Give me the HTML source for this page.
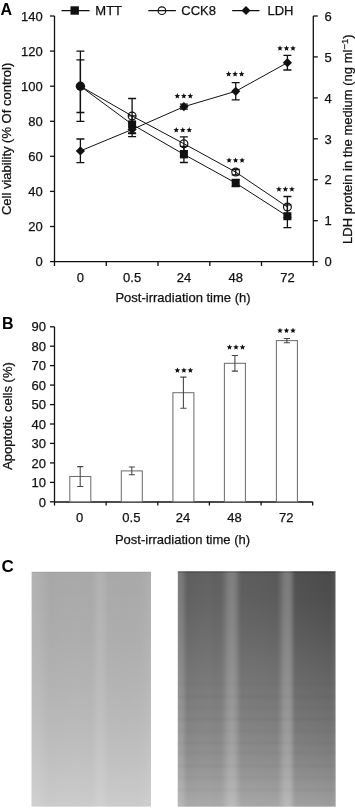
<!DOCTYPE html>
<html><head><meta charset="utf-8"><style>
html,body{margin:0;padding:0;background:#fff;}
svg{display:block;font-family:"Liberation Sans",sans-serif;will-change:transform;}
</style></head><body>
<svg width="355" height="808" viewBox="0 0 355 808">
<defs>
<linearGradient id="lgH" gradientUnits="userSpaceOnUse" x1="31.6" x2="151.0" y1="0" y2="0"><stop offset="0.0000" stop-color="#b2b2b2"/><stop offset="0.0536" stop-color="#b0b0b0"/><stop offset="0.1122" stop-color="#ababab"/><stop offset="0.1541" stop-color="#a7a7a7"/><stop offset="0.2379" stop-color="#a8a8a8"/><stop offset="0.3635" stop-color="#a9a9a9"/><stop offset="0.4891" stop-color="#a8a8a8"/><stop offset="0.5226" stop-color="#ababab"/><stop offset="0.5477" stop-color="#b0b0b0"/><stop offset="0.5812" stop-color="#b2b2b2"/><stop offset="0.6147" stop-color="#aeaeae"/><stop offset="0.6399" stop-color="#a9a9a9"/><stop offset="0.7822" stop-color="#a8a8a8"/><stop offset="0.9079" stop-color="#a9a9a9"/><stop offset="0.9581" stop-color="#acacac"/><stop offset="1.0000" stop-color="#afafaf"/></linearGradient>
<linearGradient id="lgV" gradientUnits="userSpaceOnUse" x1="0" x2="0" y1="571.8" y2="806.5"><stop offset="0.0000" stop-color="#fff" stop-opacity="0.000"/><stop offset="0.1202" stop-color="#fff" stop-opacity="0.020"/><stop offset="0.2906" stop-color="#fff" stop-opacity="0.060"/><stop offset="0.4610" stop-color="#fff" stop-opacity="0.120"/><stop offset="0.6314" stop-color="#fff" stop-opacity="0.190"/><stop offset="0.8019" stop-color="#fff" stop-opacity="0.280"/><stop offset="1.0000" stop-color="#fff" stop-opacity="0.400"/></linearGradient>
<linearGradient id="rgH" gradientUnits="userSpaceOnUse" x1="177.8" x2="335.5" y1="0" y2="0"><stop offset="-0.0019" stop-color="#808080"/><stop offset="0.0076" stop-color="#7c7c7c"/><stop offset="0.0235" stop-color="#787878"/><stop offset="0.0361" stop-color="#727272"/><stop offset="0.0488" stop-color="#666666"/><stop offset="0.0647" stop-color="#5e5e5e"/><stop offset="0.0900" stop-color="#5f5f5f"/><stop offset="0.1408" stop-color="#616161"/><stop offset="0.2042" stop-color="#626262"/><stop offset="0.2359" stop-color="#5f5f5f"/><stop offset="0.2739" stop-color="#616161"/><stop offset="0.2930" stop-color="#6a6a6a"/><stop offset="0.3120" stop-color="#777777"/><stop offset="0.3310" stop-color="#7f7f7f"/><stop offset="0.3532" stop-color="#7f7f7f"/><stop offset="0.3722" stop-color="#747474"/><stop offset="0.3881" stop-color="#666666"/><stop offset="0.4039" stop-color="#5d5d5d"/><stop offset="0.5212" stop-color="#5b5b5b"/><stop offset="0.6290" stop-color="#595959"/><stop offset="0.6481" stop-color="#646464"/><stop offset="0.6671" stop-color="#747474"/><stop offset="0.6861" stop-color="#7c7c7c"/><stop offset="0.7083" stop-color="#7a7a7a"/><stop offset="0.7242" stop-color="#6c6c6c"/><stop offset="0.7368" stop-color="#585858"/><stop offset="0.7495" stop-color="#505050"/><stop offset="0.8700" stop-color="#4d4d4d"/><stop offset="0.9651" stop-color="#4a4a4a"/><stop offset="0.9905" stop-color="#505050"/><stop offset="1.0000" stop-color="#585858"/></linearGradient>
<linearGradient id="rgV" gradientUnits="userSpaceOnUse" x1="0" x2="0" y1="571.3" y2="806.5"><stop offset="0.0000" stop-color="#fff" stop-opacity="0.000"/><stop offset="0.1220" stop-color="#fff" stop-opacity="0.020"/><stop offset="0.2921" stop-color="#fff" stop-opacity="0.080"/><stop offset="0.4622" stop-color="#fff" stop-opacity="0.150"/><stop offset="0.6322" stop-color="#fff" stop-opacity="0.220"/><stop offset="0.8023" stop-color="#fff" stop-opacity="0.310"/><stop offset="1.0000" stop-color="#fff" stop-opacity="0.460"/></linearGradient>
<linearGradient id="rgB" gradientUnits="userSpaceOnUse" x1="0" x2="0" y1="571.3" y2="806.5"><stop offset="0.0000" stop-color="#000" stop-opacity="0.000"/><stop offset="0.4622" stop-color="#000" stop-opacity="0.000"/><stop offset="0.1582" stop-color="#000" stop-opacity="0.000"/><stop offset="0.1730" stop-color="#000" stop-opacity="0.015"/><stop offset="0.1879" stop-color="#000" stop-opacity="0.000"/><stop offset="0.2772" stop-color="#000" stop-opacity="0.000"/><stop offset="0.2921" stop-color="#000" stop-opacity="0.015"/><stop offset="0.3070" stop-color="#000" stop-opacity="0.000"/><stop offset="0.3707" stop-color="#000" stop-opacity="0.000"/><stop offset="0.3856" stop-color="#000" stop-opacity="0.020"/><stop offset="0.4005" stop-color="#000" stop-opacity="0.000"/><stop offset="0.4643" stop-color="#000" stop-opacity="0.000"/><stop offset="0.4792" stop-color="#000" stop-opacity="0.022"/><stop offset="0.4940" stop-color="#000" stop-opacity="0.000"/><stop offset="0.5196" stop-color="#000" stop-opacity="0.000"/><stop offset="0.5344" stop-color="#000" stop-opacity="0.030"/><stop offset="0.5493" stop-color="#000" stop-opacity="0.000"/><stop offset="0.5663" stop-color="#000" stop-opacity="0.000"/><stop offset="0.5812" stop-color="#000" stop-opacity="0.022"/><stop offset="0.5961" stop-color="#000" stop-opacity="0.000"/><stop offset="0.6131" stop-color="#000" stop-opacity="0.000"/><stop offset="0.6280" stop-color="#000" stop-opacity="0.032"/><stop offset="0.6429" stop-color="#000" stop-opacity="0.000"/><stop offset="0.6641" stop-color="#000" stop-opacity="0.000"/><stop offset="0.6790" stop-color="#000" stop-opacity="0.025"/><stop offset="0.6939" stop-color="#000" stop-opacity="0.000"/><stop offset="0.7151" stop-color="#000" stop-opacity="0.000"/><stop offset="0.7300" stop-color="#000" stop-opacity="0.030"/><stop offset="0.7449" stop-color="#000" stop-opacity="0.000"/><stop offset="0.7577" stop-color="#000" stop-opacity="0.000"/><stop offset="0.7725" stop-color="#000" stop-opacity="0.025"/><stop offset="0.7874" stop-color="#000" stop-opacity="0.000"/><stop offset="0.8129" stop-color="#000" stop-opacity="0.000"/><stop offset="0.8278" stop-color="#000" stop-opacity="0.030"/><stop offset="0.8427" stop-color="#000" stop-opacity="0.000"/><stop offset="0.8639" stop-color="#000" stop-opacity="0.000"/><stop offset="0.8788" stop-color="#000" stop-opacity="0.022"/><stop offset="0.8937" stop-color="#000" stop-opacity="0.000"/><stop offset="0.9150" stop-color="#000" stop-opacity="0.000"/><stop offset="0.9298" stop-color="#000" stop-opacity="0.025"/><stop offset="0.9447" stop-color="#000" stop-opacity="0.000"/><stop offset="1.0000" stop-color="#000" stop-opacity="0.000"/></linearGradient>
</defs>
<rect x="31.6" y="571.8" width="119.4" height="234.7" fill="url(#lgH)"/>
<rect x="31.6" y="571.8" width="119.4" height="234.7" fill="url(#lgV)"/>
<rect x="177.8" y="571.3" width="157.7" height="235.2" fill="url(#rgH)"/>
<rect x="177.8" y="571.3" width="157.7" height="235.2" fill="url(#rgV)"/>
<rect x="177.8" y="571.3" width="157.7" height="235.2" fill="url(#rgB)"/>
<rect x="177.8" y="571.3" width="157.7" height="1.4" fill="#000" fill-opacity="0.22"/>
<rect x="31.6" y="571.8" width="119.4" height="1.2" fill="#000" fill-opacity="0.05"/>
<g stroke="#111" stroke-width="1.3" fill="none">
<path d="M54.5 16 V261.6 H313.3 V16"/>
<path d="M50 261.6 H54.5"/>
<path d="M50 226.5 H54.5"/>
<path d="M50 191.4 H54.5"/>
<path d="M50 156.3 H54.5"/>
<path d="M50 121.3 H54.5"/>
<path d="M50 86.2 H54.5"/>
<path d="M50 51.1 H54.5"/>
<path d="M50 16.0 H54.5"/>
<path d="M313.3 261.6 H317.8"/>
<path d="M313.3 220.7 H317.8"/>
<path d="M313.3 179.7 H317.8"/>
<path d="M313.3 138.8 H317.8"/>
<path d="M313.3 97.9 H317.8"/>
<path d="M313.3 56.9 H317.8"/>
<path d="M313.3 16.0 H317.8"/>
<path d="M54.5 261.6 V266"/>
<path d="M106.3 261.6 V266"/>
<path d="M158.0 261.6 V266"/>
<path d="M209.8 261.6 V266"/>
<path d="M261.5 261.6 V266"/>
<path d="M313.3 261.6 V266"/>
</g>
<g font-size="13" fill="#111" stroke="#111" stroke-width="0.25">
<text x="42.8" y="266.3" text-anchor="end">0</text>
<text x="42.8" y="231.2" text-anchor="end">20</text>
<text x="42.8" y="196.1" text-anchor="end">40</text>
<text x="42.8" y="161.0" text-anchor="end">60</text>
<text x="42.8" y="126.0" text-anchor="end">80</text>
<text x="42.8" y="90.9" text-anchor="end">100</text>
<text x="42.8" y="55.8" text-anchor="end">120</text>
<text x="42.8" y="20.7" text-anchor="end">140</text>
<text x="324.5" y="266.3">0</text>
<text x="324.5" y="225.4">1</text>
<text x="324.5" y="184.4">2</text>
<text x="324.5" y="143.5">3</text>
<text x="324.5" y="102.6">4</text>
<text x="324.5" y="61.6">5</text>
<text x="324.5" y="20.7">6</text>
<text x="80.4" y="282.2" text-anchor="middle">0</text>
<text x="132.1" y="282.2" text-anchor="middle">0.5</text>
<text x="183.9" y="282.2" text-anchor="middle">24</text>
<text x="235.7" y="282.2" text-anchor="middle">48</text>
<text x="287.4" y="282.2" text-anchor="middle">72</text>
<text x="183" y="301.8" text-anchor="middle">Post-irradiation time (h)</text>
<text transform="translate(11.2 138.9) rotate(-90)" text-anchor="middle">Cell viability (% Of control)</text>
<text transform="translate(352 139.2) rotate(-90)" text-anchor="middle">LDH protein in the medium (ng ml<tspan font-size="9.5" dy="-3.8">−1</tspan><tspan dy="3.8">)</tspan></text>
</g>
<text x="0.5" y="14.7" font-size="16" font-weight="bold" fill="#000">A</text>
<text x="2" y="329.2" font-size="16" font-weight="bold" fill="#000">B</text>
<text x="1.5" y="571.5" font-size="17" font-weight="bold" fill="#000">C</text>
<g stroke="#111" stroke-width="1.2" fill="none">
<path d="M61.5 10.7 H89.6 M148.3 10.7 H175.9 M232.2 10.7 H259.5"/>
<circle cx="161.9" cy="10.7" r="3.8"/>
</g>
<rect x="70.5" y="6.3" width="8.4" height="8.4" fill="#111"/>
<path d="M246 6 L250.5 10.5 L246 15 L241.5 10.5Z" fill="#111"/>
<g font-size="13" fill="#111" stroke="#111" stroke-width="0.25"><text x="95.3" y="15.2">MTT</text><text x="181.3" y="15.2">CCK8</text><text x="267.5" y="15.2">LDH</text></g>
<g stroke="#111" stroke-width="1" fill="none">
<path d="M80.4 86.2 L132.1 124.4 L183.9 154.4 L235.7 183.0 L287.4 216.2"/>
<path d="M80.4 86.2 L132.1 116.0 L183.9 143.7 L235.7 172.1 L287.4 207.0"/>
<path d="M80.4 150.9 L132.1 129.5 L183.9 106.7 L235.7 91.3 L287.4 62.7"/>
</g>
<g stroke="#111" stroke-width="1.3" fill="none">
<path d="M80.4 121.3 V51.1 M76.4 121.3 H84.4 M76.4 51.1 H84.4"/>
<path d="M132.1 133.0 V115.8 M128.1 133.0 H136.1 M128.1 115.8 H136.1"/>
<path d="M183.9 162.5 V146.3 M179.9 162.5 H187.9 M179.9 146.3 H187.9"/>
<path d="M235.7 186.5 V179.5 M231.7 186.5 H239.7 M231.7 179.5 H239.7"/>
<path d="M287.4 227.6 V204.8 M283.4 227.6 H291.4 M283.4 204.8 H291.4"/>
<path d="M80.4 112.5 V59.9 M76.4 112.5 H84.4 M76.4 59.9 H84.4"/>
<path d="M132.1 133.5 V98.5 M128.1 133.5 H136.1 M128.1 98.5 H136.1"/>
<path d="M183.9 150.6 V136.9 M179.9 150.6 H187.9 M179.9 136.9 H187.9"/>
<path d="M235.7 174.8 V169.5 M231.7 174.8 H239.7 M231.7 169.5 H239.7"/>
<path d="M287.4 217.6 V196.5 M283.4 217.6 H291.4 M283.4 196.5 H291.4"/>
<path d="M80.4 162.7 V139.0 M76.4 162.7 H84.4 M76.4 139.0 H84.4"/>
<path d="M132.1 136.7 V122.3 M128.1 136.7 H136.1 M128.1 122.3 H136.1"/>
<path d="M183.9 109.1 V104.2 M179.9 109.1 H187.9 M179.9 104.2 H187.9"/>
<path d="M235.7 99.9 V82.7 M231.7 99.9 H239.7 M231.7 82.7 H239.7"/>
<path d="M287.4 70.0 V55.3 M283.4 70.0 H291.4 M283.4 55.3 H291.4"/>
</g>
<rect x="128.1" y="120.4" width="8" height="8" fill="#111"/>
<rect x="179.9" y="150.4" width="8" height="8" fill="#111"/>
<rect x="231.7" y="179.0" width="8" height="8" fill="#111"/>
<rect x="283.4" y="212.2" width="8" height="8" fill="#111"/>
<path d="M80.4 146.3 L85.0 150.9 L80.4 155.5 L75.8 150.9Z" fill="#111"/>
<path d="M132.1 124.9 L136.7 129.5 L132.1 134.1 L127.5 129.5Z" fill="#111"/>
<path d="M183.9 102.1 L188.5 106.7 L183.9 111.3 L179.3 106.7Z" fill="#111"/>
<path d="M235.7 86.7 L240.3 91.3 L235.7 95.9 L231.1 91.3Z" fill="#111"/>
<path d="M287.4 58.1 L292.0 62.7 L287.4 67.3 L282.8 62.7Z" fill="#111"/>
<circle cx="80.4" cy="86.2" r="4.7" fill="#111"/>
<circle cx="132.1" cy="116.0" r="3.9" fill="none" stroke="#111" stroke-width="1.2"/>
<circle cx="183.9" cy="143.7" r="3.9" fill="none" stroke="#111" stroke-width="1.2"/>
<circle cx="235.7" cy="172.1" r="3.9" fill="none" stroke="#111" stroke-width="1.2"/>
<circle cx="287.4" cy="207.0" r="3.9" fill="none" stroke="#111" stroke-width="1.2"/>
<path fill="#111" d="M177.30 93.10 L178.09 94.96 L180.11 95.14 L178.58 96.47 L179.03 98.44 L177.30 97.40 L175.57 98.44 L176.02 96.47 L174.49 95.14 L176.51 94.96Z M183.80 93.10 L184.59 94.96 L186.61 95.14 L185.08 96.47 L185.53 98.44 L183.80 97.40 L182.07 98.44 L182.52 96.47 L180.99 95.14 L183.01 94.96Z M190.30 93.10 L191.09 94.96 L193.11 95.14 L191.58 96.47 L192.03 98.44 L190.30 97.40 L188.57 98.44 L189.02 96.47 L187.49 95.14 L189.51 94.96Z M228.60 71.10 L229.39 72.96 L231.41 73.14 L229.88 74.47 L230.33 76.44 L228.60 75.40 L226.87 76.44 L227.32 74.47 L225.79 73.14 L227.81 72.96Z M235.10 71.10 L235.89 72.96 L237.91 73.14 L236.38 74.47 L236.83 76.44 L235.10 75.40 L233.37 76.44 L233.82 74.47 L232.29 73.14 L234.31 72.96Z M241.60 71.10 L242.39 72.96 L244.41 73.14 L242.88 74.47 L243.33 76.44 L241.60 75.40 L239.87 76.44 L240.32 74.47 L238.79 73.14 L240.81 72.96Z M280.00 45.50 L280.79 47.36 L282.81 47.54 L281.28 48.87 L281.73 50.84 L280.00 49.80 L278.27 50.84 L278.72 48.87 L277.19 47.54 L279.21 47.36Z M286.50 45.50 L287.29 47.36 L289.31 47.54 L287.78 48.87 L288.23 50.84 L286.50 49.80 L284.77 50.84 L285.22 48.87 L283.69 47.54 L285.71 47.36Z M293.00 45.50 L293.79 47.36 L295.81 47.54 L294.28 48.87 L294.73 50.84 L293.00 49.80 L291.27 50.84 L291.72 48.87 L290.19 47.54 L292.21 47.36Z M176.25 127.10 L177.04 128.96 L179.06 129.14 L177.53 130.47 L177.98 132.44 L176.25 131.40 L174.52 132.44 L174.97 130.47 L173.44 129.14 L175.46 128.96Z M182.75 127.10 L183.54 128.96 L185.56 129.14 L184.03 130.47 L184.48 132.44 L182.75 131.40 L181.02 132.44 L181.47 130.47 L179.94 129.14 L181.96 128.96Z M189.25 127.10 L190.04 128.96 L192.06 129.14 L190.53 130.47 L190.98 132.44 L189.25 131.40 L187.52 132.44 L187.97 130.47 L186.44 129.14 L188.46 128.96Z M229.10 157.50 L229.89 159.36 L231.91 159.54 L230.38 160.87 L230.83 162.84 L229.10 161.80 L227.37 162.84 L227.82 160.87 L226.29 159.54 L228.31 159.36Z M235.60 157.50 L236.39 159.36 L238.41 159.54 L236.88 160.87 L237.33 162.84 L235.60 161.80 L233.87 162.84 L234.32 160.87 L232.79 159.54 L234.81 159.36Z M242.10 157.50 L242.89 159.36 L244.91 159.54 L243.38 160.87 L243.83 162.84 L242.10 161.80 L240.37 162.84 L240.82 160.87 L239.29 159.54 L241.31 159.36Z M278.90 186.30 L279.69 188.16 L281.71 188.34 L280.18 189.67 L280.63 191.64 L278.90 190.60 L277.17 191.64 L277.62 189.67 L276.09 188.34 L278.11 188.16Z M285.40 186.30 L286.19 188.16 L288.21 188.34 L286.68 189.67 L287.13 191.64 L285.40 190.60 L283.67 191.64 L284.12 189.67 L282.59 188.34 L284.61 188.16Z M291.90 186.30 L292.69 188.16 L294.71 188.34 L293.18 189.67 L293.63 191.64 L291.90 190.60 L290.17 191.64 L290.62 189.67 L289.09 188.34 L291.11 188.16Z M177.40 367.50 L178.19 369.36 L180.21 369.54 L178.68 370.87 L179.13 372.84 L177.40 371.80 L175.67 372.84 L176.12 370.87 L174.59 369.54 L176.61 369.36Z M183.90 367.50 L184.69 369.36 L186.71 369.54 L185.18 370.87 L185.63 372.84 L183.90 371.80 L182.17 372.84 L182.62 370.87 L181.09 369.54 L183.11 369.36Z M190.40 367.50 L191.19 369.36 L193.21 369.54 L191.68 370.87 L192.13 372.84 L190.40 371.80 L188.67 372.84 L189.12 370.87 L187.59 369.54 L189.61 369.36Z M229.50 344.30 L230.29 346.16 L232.31 346.34 L230.78 347.67 L231.23 349.64 L229.50 348.60 L227.77 349.64 L228.22 347.67 L226.69 346.34 L228.71 346.16Z M236.00 344.30 L236.79 346.16 L238.81 346.34 L237.28 347.67 L237.73 349.64 L236.00 348.60 L234.27 349.64 L234.72 347.67 L233.19 346.34 L235.21 346.16Z M242.50 344.30 L243.29 346.16 L245.31 346.34 L243.78 347.67 L244.23 349.64 L242.50 348.60 L240.77 349.64 L241.22 347.67 L239.69 346.34 L241.71 346.16Z M280.00 327.70 L280.79 329.56 L282.81 329.74 L281.28 331.07 L281.73 333.04 L280.00 332.00 L278.27 333.04 L278.72 331.07 L277.19 329.74 L279.21 329.56Z M286.50 327.70 L287.29 329.56 L289.31 329.74 L287.78 331.07 L288.23 333.04 L286.50 332.00 L284.77 333.04 L285.22 331.07 L283.69 329.74 L285.71 329.56Z M293.00 327.70 L293.79 329.56 L295.81 329.74 L294.28 331.07 L294.73 333.04 L293.00 332.00 L291.27 333.04 L291.72 331.07 L290.19 329.74 L292.21 329.56Z"/>
<g stroke="#111" stroke-width="1.3" fill="none">
<path d="M54.5 326.8 V501.8"/><path d="M54 502 H312.7" stroke-width="1.6"/>
<path d="M50 501.8 H54.5"/>
<path d="M50 482.4 H54.5"/>
<path d="M50 462.9 H54.5"/>
<path d="M50 443.4 H54.5"/>
<path d="M50 424.0 H54.5"/>
<path d="M50 404.6 H54.5"/>
<path d="M50 385.1 H54.5"/>
<path d="M50 365.6 H54.5"/>
<path d="M50 346.2 H54.5"/>
<path d="M50 326.8 H54.5"/>
<path d="M54.5 501.8 V505.5"/>
<path d="M106.1 501.8 V505.5"/>
<path d="M157.8 501.8 V505.5"/>
<path d="M209.4 501.8 V505.5"/>
<path d="M261.1 501.8 V505.5"/>
<path d="M312.7 501.8 V505.5"/>
</g>
<g font-size="13" fill="#111" stroke="#111" stroke-width="0.25">
<text x="46" y="506.5" text-anchor="end">0</text>
<text x="46" y="487.1" text-anchor="end">10</text>
<text x="46" y="467.6" text-anchor="end">20</text>
<text x="46" y="448.1" text-anchor="end">30</text>
<text x="46" y="428.7" text-anchor="end">40</text>
<text x="46" y="409.2" text-anchor="end">50</text>
<text x="46" y="389.8" text-anchor="end">60</text>
<text x="46" y="370.3" text-anchor="end">70</text>
<text x="46" y="350.9" text-anchor="end">80</text>
<text x="46" y="331.4" text-anchor="end">90</text>
<text x="79.7" y="522.3" text-anchor="middle">0</text>
<text x="131.4" y="522.3" text-anchor="middle">0.5</text>
<text x="183.0" y="522.3" text-anchor="middle">24</text>
<text x="234.6" y="522.3" text-anchor="middle">48</text>
<text x="286.3" y="522.3" text-anchor="middle">72</text>
<text x="182.5" y="543.5" text-anchor="middle">Post-irradiation time (h)</text>
<text transform="translate(11.8 416) rotate(-90)" text-anchor="middle">Apoptotic cells (%)</text>
</g>
<g stroke="#707070" stroke-width="1.05" fill="#fff">
<rect x="69.8" y="476.5" width="21" height="25.3"/>
<rect x="121.3" y="470.9" width="21" height="30.9"/>
<rect x="172.9" y="392.7" width="21" height="109.1"/>
<rect x="224.4" y="363.3" width="21" height="138.5"/>
<rect x="276.4" y="340.6" width="21" height="161.2"/>
</g>
<g stroke="#444" stroke-width="1.05" fill="none">
<path d="M80.2 486.4 V466.6 M77.2 486.4 H83.3 M77.2 466.6 H83.3"/>
<path d="M131.8 474.8 V467.0 M128.8 474.8 H134.9 M128.8 467.0 H134.9"/>
<path d="M183.4 408.2 V377.1 M180.3 408.2 H186.5 M180.3 377.1 H186.5"/>
<path d="M234.9 371.1 V355.5 M231.8 371.1 H238.0 M231.8 355.5 H238.0"/>
<path d="M286.9 342.7 V338.4 M283.8 342.7 H290.0 M283.8 338.4 H290.0"/>
</g>
</svg>
</body></html>
